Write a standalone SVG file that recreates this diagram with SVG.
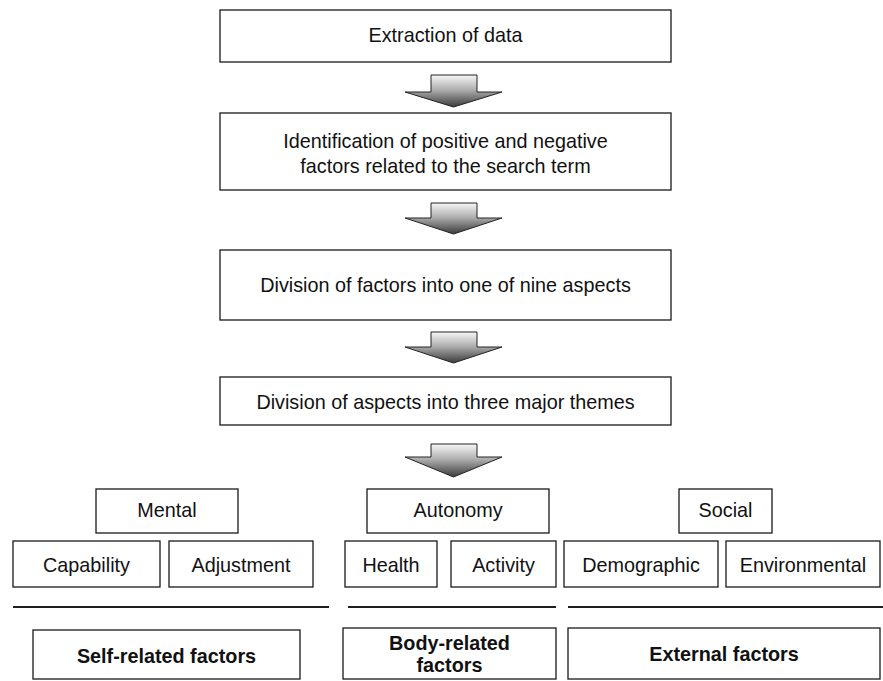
<svg xmlns="http://www.w3.org/2000/svg" width="883" height="681" viewBox="0 0 883 681">
<style>
  .box { fill: #ffffff; stroke: #1a1a1a; stroke-width: 1.3; }
  .t { font-family: "Liberation Sans", Arial, sans-serif; font-size: 19.8px; fill: #111; text-anchor: middle; }
  .b { font-weight: bold; }
  .arrow { fill: url(#ag); stroke: #222; stroke-width: 1; stroke-linejoin: miter; }
  .sep { stroke: #1f1f1f; stroke-width: 2; }
  .sepsh { stroke: #9a9a9a; stroke-width: 2.5; filter: url(#blur); }
</style>
<defs>
  <linearGradient id="ag" x1="0" y1="0" x2="0" y2="1">
    <stop offset="0" stop-color="#f7f7f7"/>
    <stop offset="0.45" stop-color="#b0b0b0"/>
    <stop offset="1" stop-color="#3a3a3a"/>
  </linearGradient>
  <filter id="blur" x="-5%" y="-300%" width="110%" height="700%">
    <feGaussianBlur stdDeviation="1"/>
  </filter>
</defs>
<rect width="883" height="681" fill="#ffffff"/>

<g id="n-extraction">
  <rect class="box" x="220" y="10" width="451" height="52"/>
  <text class="t" x="445.5" y="42">Extraction of data</text>
</g>
<g id="n-identification">
  <rect class="box" x="220" y="113" width="451" height="77"/>
  <text class="t" x="445.5" y="148">Identification of positive and negative</text>
  <text class="t" x="445.5" y="173">factors related to the search term</text>
</g>
<g id="n-division-factors">
  <rect class="box" x="220" y="250" width="451" height="70"/>
  <text class="t" x="445.5" y="292">Division of factors into one of nine aspects</text>
</g>
<g id="n-division-aspects">
  <rect class="box" x="220" y="377" width="451" height="48"/>
  <text class="t" x="445.5" y="409">Division of aspects into three major themes</text>
</g>

<g id="n-mental">
  <rect class="box" x="96" y="489" width="142" height="44"/>
  <text class="t" x="167" y="517">Mental</text>
</g>
<g id="n-autonomy">
  <rect class="box" x="367" y="489" width="182" height="44"/>
  <text class="t" x="458" y="517">Autonomy</text>
</g>
<g id="n-social">
  <rect class="box" x="679" y="489" width="93" height="44"/>
  <text class="t" x="725.5" y="517">Social</text>
</g>

<g id="n-capability">
  <rect class="box" x="13" y="541" width="147" height="46"/>
  <text class="t" x="86.5" y="572">Capability</text>
</g>
<g id="n-adjustment">
  <rect class="box" x="169" y="541" width="144" height="46"/>
  <text class="t" x="241" y="572">Adjustment</text>
</g>
<g id="n-health">
  <rect class="box" x="345" y="541" width="92" height="46"/>
  <text class="t" x="391" y="572">Health</text>
</g>
<g id="n-activity">
  <rect class="box" x="451" y="541" width="105" height="46"/>
  <text class="t" x="503.5" y="572">Activity</text>
</g>
<g id="n-demographic">
  <rect class="box" x="564" y="541" width="154" height="46"/>
  <text class="t" x="641" y="572">Demographic</text>
</g>
<g id="n-environmental">
  <rect class="box" x="726" y="541" width="154" height="46"/>
  <text class="t" x="803" y="572">Environmental</text>
</g>

<g id="separators">
  <line class="sepsh" x1="13" y1="609.5" x2="329" y2="609.5"/>
  <line class="sepsh" x1="348" y1="609.5" x2="556" y2="609.5"/>
  <line class="sepsh" x1="568" y1="609.5" x2="883" y2="609.5"/>
  <line class="sep" x1="13" y1="607" x2="329" y2="607"/>
  <line class="sep" x1="348" y1="607" x2="556" y2="607"/>
  <line class="sep" x1="568" y1="607" x2="883" y2="607"/>
</g>

<g id="n-self">
  <rect class="box" x="33" y="630" width="267" height="49"/>
  <text class="t b" x="166.5" y="663">Self-related factors</text>
</g>
<g id="n-body">
  <rect class="box" x="343" y="628" width="213" height="51"/>
  <text class="t b" x="449.5" y="650">Body-related</text>
  <text class="t b" x="449.5" y="672">factors</text>
</g>
<g id="n-external">
  <rect class="box" x="568" y="628" width="312" height="51"/>
  <text class="t b" x="724" y="661">External factors</text>
</g>

<g id="connectors">
  <path class="arrow" d="M431,75 H477 V92 H502 L453.5,107 L405,92 H431 Z"/>
  <path class="arrow" d="M431,203 H477 V218 H502 L453.5,234 L405,218 H431 Z"/>
  <path class="arrow" d="M431,332 H477 V347 H502 L453.5,363 L405,347 H431 Z"/>
  <path class="arrow" d="M431,444 H477 V457 H502 L453.5,477 L405,457 H431 Z"/>
</g>
</svg>
